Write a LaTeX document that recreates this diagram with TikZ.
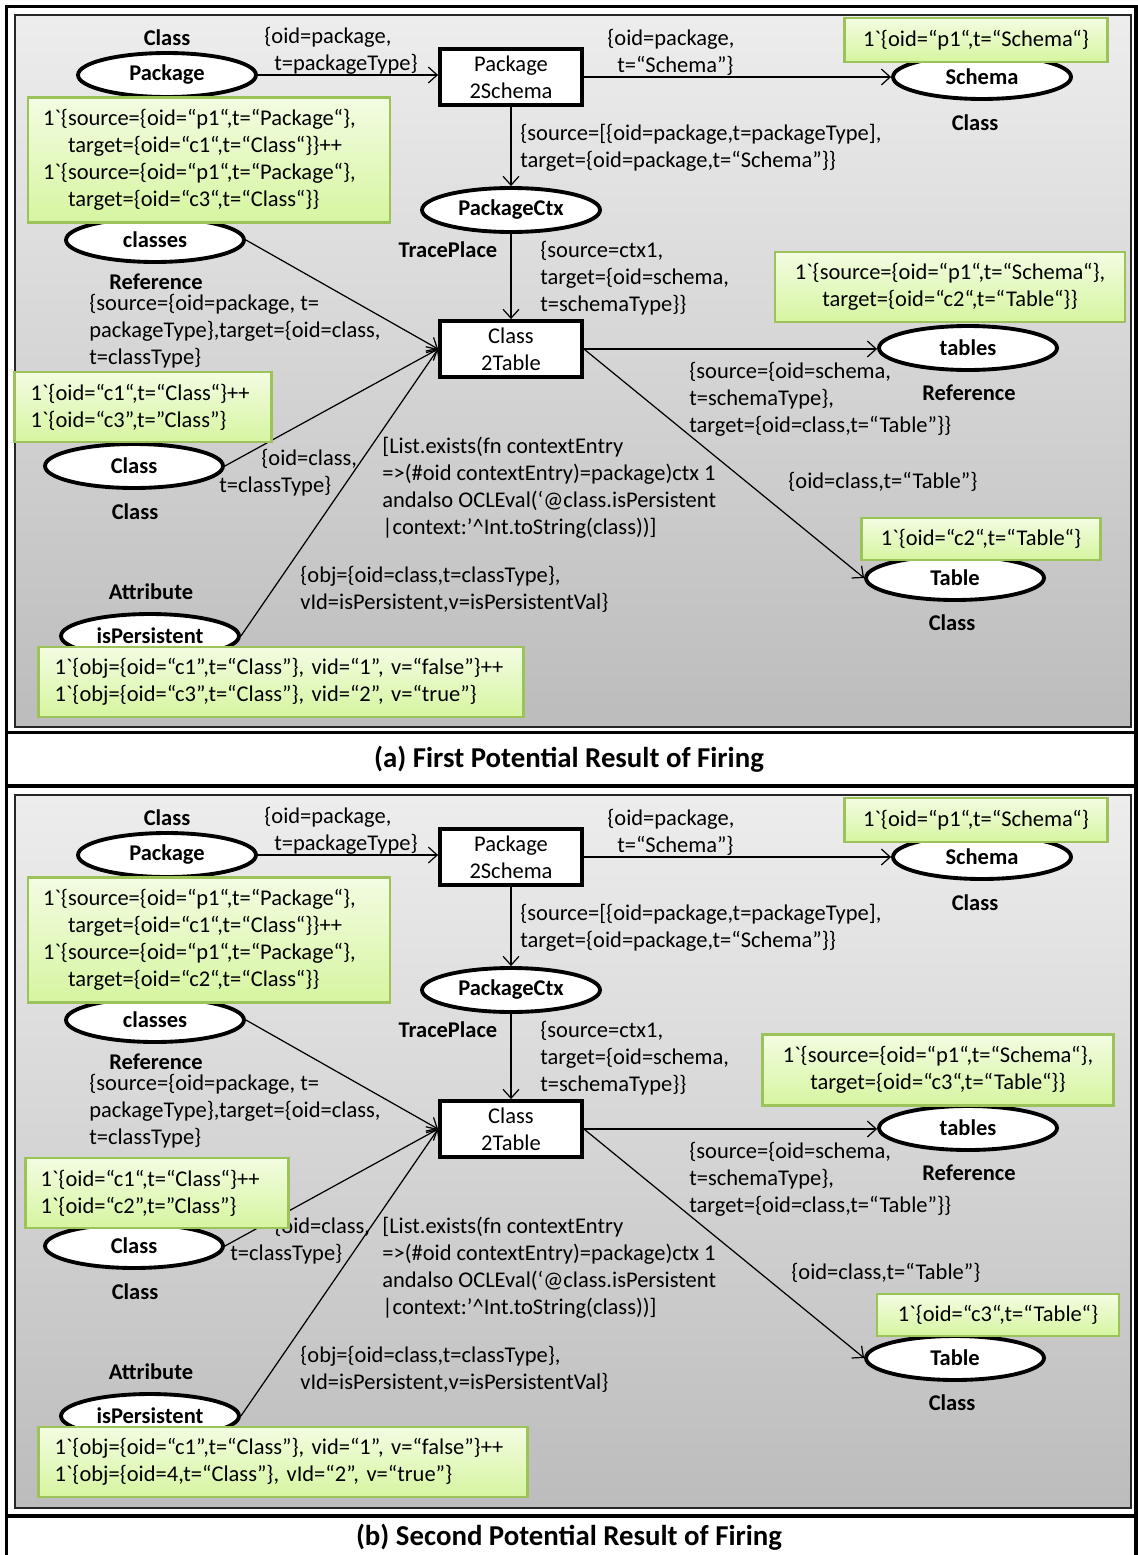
\documentclass[tikz,border=0pt]{standalone}
\usepackage{fontspec}
\setmainfont{Carlito}
\usetikzlibrary{shapes,arrows.meta,positioning,calc}

\definecolor{panelTop}{RGB}{237,237,237}
\definecolor{panelBot}{RGB}{188,188,188}
\definecolor{markTop}{RGB}{243,252,226}
\definecolor{markBot}{RGB}{214,245,160}
\definecolor{markLine}{RGB}{155,195,90}

\newcommand{\netfont}{\fontsize{12.8}{15.4}\selectfont}
\newcommand{\msone}{1\textasciigrave}

% places, transitions and arcs shared by both firing results
\newcommand{\firingnet}{%
\node[place] (pkg) at (167,75) {Package};
\node[place] (schema) at (982,77) {Schema};
\node[place] (ctx) at (511,210) {PackageCtx};
\node[place] (classes) at (155,240) {classes};
\node[place] (tables) at (968,348) {tables};
\node[place] (cls) at (134,466) {Class};
\node[place] (table) at (955,578) {Table};
\node[place] (isp) at (150,636) {isPersistent};
\node[trans] (p2s) at (511,77) {Package\\2Schema};
\node[trans] (c2t) at (511,349) {Class\\2Table};
%
\node[colset] at (167,38) {Class};
\node[colset] at (975,123) {Class};
\node[colset] at (448,250) {TracePlace};
\node[colset] at (156,282) {Reference};
\node[colset] at (969,393) {Reference};
\node[colset] at (135,512) {Class};
\node[colset] at (151,592) {Attribute};
\node[colset] at (952,623) {Class};
%
\draw[arrow] (pkg.east) -- (pkg.east -| p2s.west);
\draw[arrow] (p2s.east) -- (p2s.east -| schema.west);
\draw[arrow] (p2s) -- (ctx);
\draw[arrow] (ctx) -- (c2t);
\draw[arrow] (classes.east) -- (c2t.west);
\draw[arrow] (cls.east) -- (c2t.west);
\draw[arrow] (isp.east) -- (c2t.west);
\draw[arrow] (c2t.east) -- (c2t.east -| tables.west);
\draw[arrow] (c2t.east) -- (table.west);
%
\node[inscr] at (264,51) {\{oid=package,\\\hspace*{0.2cm}t=packageType\}};
\node[inscr] at (607,52) {\{oid=package,\\\hspace*{0.2cm}t=“Schema”\}};
\node[inscr] at (520,148) {\{source=[\{oid=package,t=packageType],\\target=\{oid=package,t=“Schema”\}\}};
\node[inscr] at (540,278) {\{source=ctx1,\\target=\{oid=schema,\\t=schemaType\}\}};
\node[inscr] at (89,331) {\{source=\{oid=package, t=\\packageType\},target=\{oid=class,\\t=classType\}};
\node[inscr] at (382,488) {[List.exists(fn contextEntry\\=>(\#oid contextEntry)=package)ctx 1\\andalso OCLEval(‘@class.isPersistent\\|context:’\textasciicircum Int.toString(class))]};
\node[inscr] at (300,589) {\{obj=\{oid=class,t=classType\},\\vId=isPersistent,v=isPersistentVal\}};
\node[inscr] at (689,399) {\{source=\{oid=schema,\\t=schemaType\},\\target=\{oid=class,t=“Table”\}\}};
}

\begin{document}
\begin{tikzpicture}[
    x=0.02cm, y=-0.02cm,
    font=\netfont,
    place/.style={ellipse, draw, line width=2.2pt, fill=white, minimum width=3.56cm, minimum height=0.88cm, inner sep=0pt, font=\netfont\bfseries},
    trans/.style={rectangle, draw, line width=2.2pt, fill=white, minimum width=2.84cm, minimum height=1.12cm, align=center},
    colset/.style={font=\netfont\bfseries},
    inscr/.style={anchor=west, align=left, inner sep=0pt},
    marking/.style={rectangle, draw=markLine, line width=1.2pt, top color=markTop, bottom color=markBot, inner sep=0pt},
    panel/.style={draw=black!85, line width=1pt, top color=panelTop, bottom color=panelBot},
    frame/.style={line width=2pt},
    figcap/.style={font=\fontsize{16.4}{19}\selectfont\bfseries},
    arrow/.style={-{Straight Barb[length=5pt,width=9pt]}, line width=0.7pt}
]
\useasboundingbox (0,0) rectangle (1138,1555);

% first result of firing
\begin{scope}
\draw[panel] (15,15) rectangle (1131,727);
\firingnet
\node[inscr] at (219,473) {\hspace*{0.84cm}\{oid=class,\\t=classType\}};
\node[inscr] at (788,482) {\{oid=class,t=“Table”\}};
\node[marking, minimum width=7.24cm, minimum height=2.5cm, text width=6.64cm, align=left] (mpkg) at (209,160) {\msone\{source=\{oid=“p1“,t=“Package“\},\\\hspace*{0.5cm}target=\{oid=“c1“,t=“Class“\}\}++\\\msone\{source=\{oid=“p1“,t=“Package“\},\\\hspace*{0.5cm}target=\{oid=“c3“,t=“Class“\}\}};
\node[marking, minimum width=5.26cm, minimum height=0.88cm] (mschema) at (976,40) {\msone\{oid=“p1“,t=“Schema“\}};
\node[marking, minimum width=7cm, minimum height=1.4cm, align=center] (mtables) at (950,287) {\msone\{source=\{oid=“p1“,t=“Schema“\},\\target=\{oid=“c2“,t=“Table“\}\}};
\node[marking, minimum width=5.14cm, minimum height=1.4cm, text width=4.5cm, align=left] (mcls) at (143,407) {\msone\{oid=“c1“,t=“Class“\}++\\\msone\{oid=“c3”,t=”Class”\}};
\node[marking, minimum width=4.78cm, minimum height=0.84cm] (mtable) at (981,539) {\msone\{oid=“c2“,t=“Table“\}};
\node[marking, minimum width=9.7cm, minimum height=1.4cm, text width=9.06cm, align=left] (misp) at (281,682) {\msone\{obj=\{oid=“c1”,t=“Class”\}, vid=“1”, v=“false”\}++\\\msone\{obj=\{oid=“c3”,t=“Class”\}, vid=“2”, v=“true”\}};
\end{scope}

% second result of firing
\begin{scope}[shift={(0,780)}]
\draw[panel] (15,15) rectangle (1131,728);
\firingnet
\node[inscr] at (230,461) {\hspace*{0.88cm}\{oid=class,\\t=classType\}};
\node[inscr] at (791,493) {\{oid=class,t=“Table”\}};
\node[marking, minimum width=7.24cm, minimum height=2.5cm, text width=6.64cm, align=left] (mpkg) at (209,160) {\msone\{source=\{oid=“p1“,t=“Package“\},\\\hspace*{0.5cm}target=\{oid=“c1“,t=“Class“\}\}++\\\msone\{source=\{oid=“p1“,t=“Package“\},\\\hspace*{0.5cm}target=\{oid=“c2“,t=“Class“\}\}};
\node[marking, minimum width=5.26cm, minimum height=0.88cm] (mschema) at (976,40) {\msone\{oid=“p1“,t=“Schema“\}};
\node[marking, minimum width=7.02cm, minimum height=1.42cm, align=center] (mtables) at (938,290) {\msone\{source=\{oid=“p1“,t=“Schema“\},\\target=\{oid=“c3“,t=“Table“\}\}};
\node[marking, minimum width=5.26cm, minimum height=1.4cm, text width=4.66cm, align=left] (mcls) at (157,413) {\msone\{oid=“c1“,t=“Class“\}++\\\msone\{oid=“c2”,t=”Class”\}};
\node[marking, minimum width=4.84cm, minimum height=0.84cm] (mtable) at (998,535) {\msone\{oid=“c3“,t=“Table“\}};
\node[marking, minimum width=9.78cm, minimum height=1.4cm, text width=9.14cm, align=left] (misp) at (283,682) {\msone\{obj=\{oid=“c1”,t=“Class”\}, vid=“1”, v=“false”\}++\\\msone\{obj=\{oid=4,t=“Class”\}, vId=“2”, v=“true”\}};
\end{scope}

% captions and outer frame
\node[figcap] (capa) at (569,759) {(a) First Potential Result of Firing};
\node[figcap] (capb) at (569,1537) {(b) Second Potential Result of Firing};
\draw[frame] (6.5,1560) -- (6.5,6.5) -- (1136,6.5) -- (1136,1560);
\draw[frame] (6.5,732.5) -- (1136,732.5);
\draw[frame] (6.5,786) -- (1136,786);
\draw[frame] (6.5,1516) -- (1136,1516);
\end{tikzpicture}
\end{document}
